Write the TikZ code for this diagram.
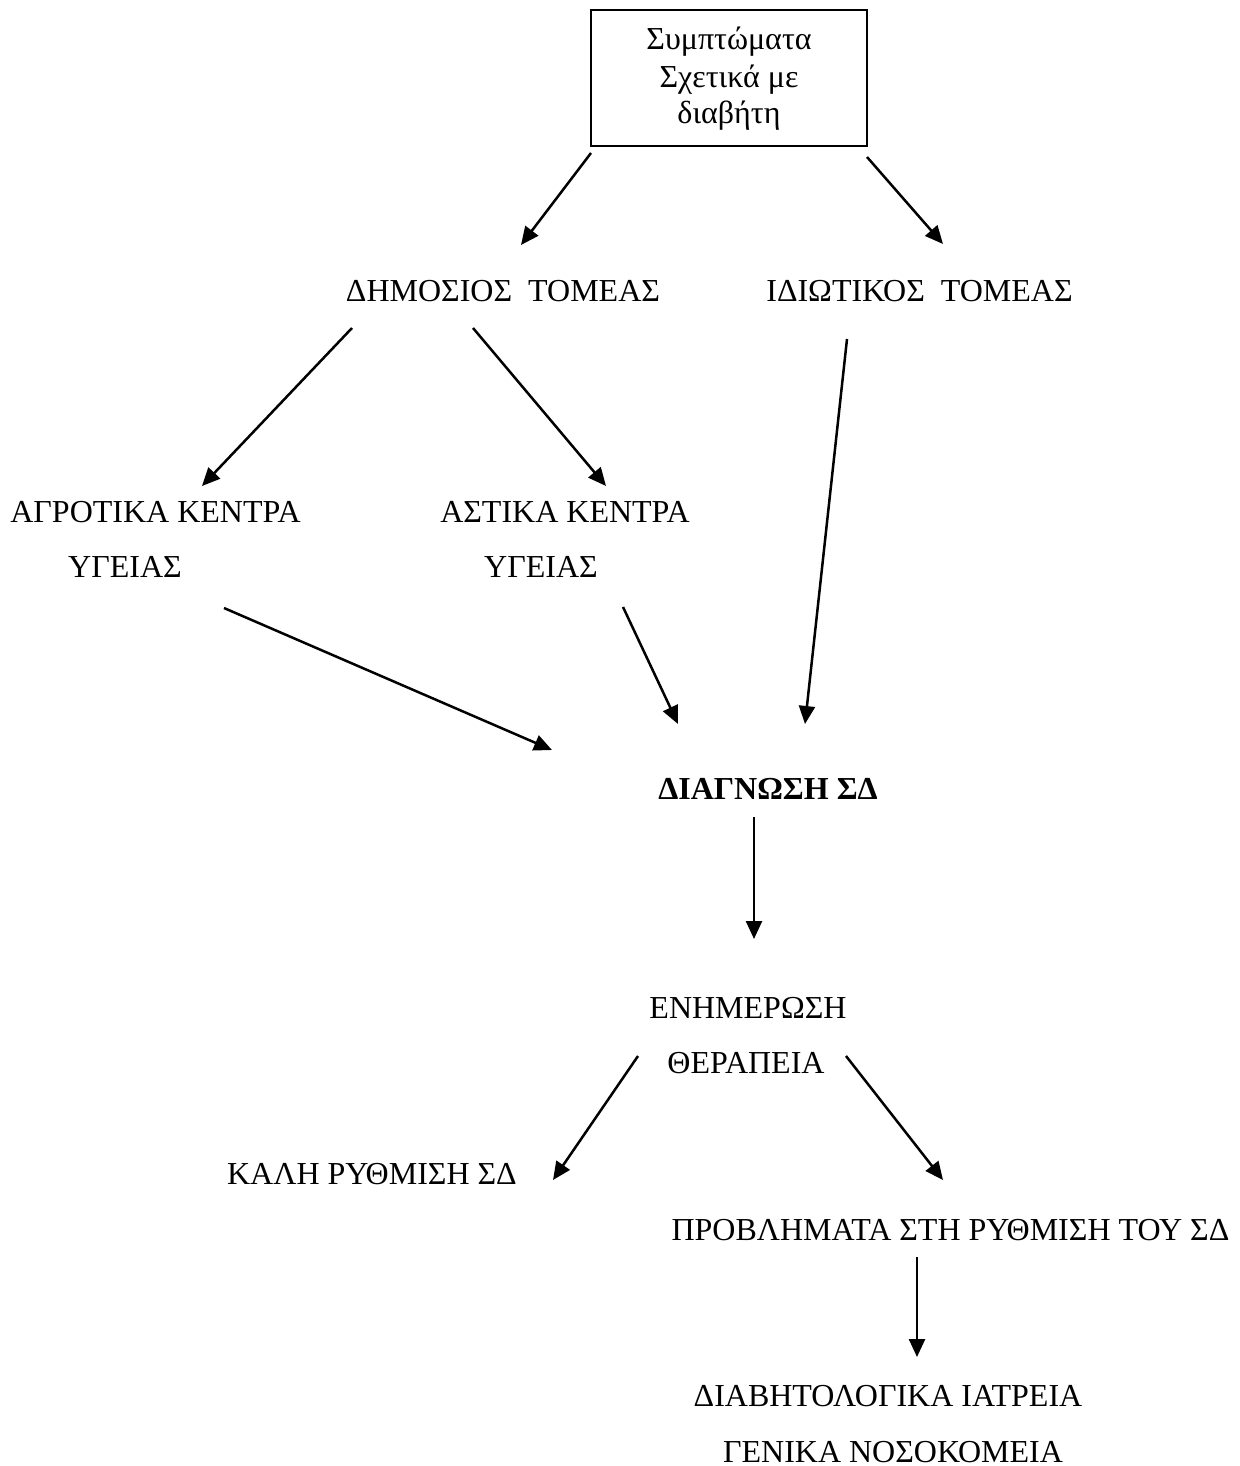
\documentclass[tikz,border=0pt]{standalone}
\usepackage{fontspec}
\setmainfont{Liberation Serif}
\usetikzlibrary{arrows.meta}
\begin{document}
\begin{tikzpicture}[x=1pt,y=-1pt,
  lbl/.style={inner sep=0pt,anchor=base,font=\fontsize{32}{38}\selectfont},
  conn/.style={line width=2.5pt,-{Triangle[length=18pt,width=16pt]}},
  boxed/.style={draw,line width=1.6pt}]
\useasboundingbox (0,0) rectangle (1239,1466);
% box
\node[boxed,minimum width=276pt,minimum height=136pt,inner sep=0pt] (box) at (729,78) {};
\node[lbl] (s1) at (729,50) {Συμπτώματα};
\node[lbl] (s2) at (729,88) {Σχετικά με};
\node[lbl] (s3) at (729,124) {διαβήτη};
% labels
\node[lbl] (dim) at (503,301) {ΔΗΜΟΣΙΟΣ\ \ ΤΟΜΕΑΣ};
\node[lbl] (idi) at (919.5,301) {ΙΔΙΩΤΙΚΟΣ\ \ ΤΟΜΕΑΣ};
\node[lbl] (agro1) at (155.5,522) {ΑΓΡΟΤΙΚΑ ΚΕΝΤΡΑ};
\node[lbl] (agro2) at (125,577) {ΥΓΕΙΑΣ};
\node[lbl] (asti1) at (565,522) {ΑΣΤΙΚΑ ΚΕΝΤΡΑ};
\node[lbl] (asti2) at (541,577) {ΥΓΕΙΑΣ};
\node[lbl,font=\fontsize{32}{38}\selectfont\bfseries] (diag) at (768,799) {ΔΙΑΓΝΩΣΗ ΣΔ};
\node[lbl] (enim) at (748,1018) {ΕΝΗΜΕΡΩΣΗ};
\node[lbl] (ther) at (746,1073) {ΘΕΡΑΠΕΙΑ};
\node[lbl] (kali) at (372,1184) {ΚΑΛΗ ΡΥΘΜΙΣΗ ΣΔ};
\node[lbl] (prov) at (950.5,1240) {ΠΡΟΒΛΗΜΑΤΑ ΣΤΗ ΡΥΘΜΙΣΗ ΤΟΥ ΣΔ};
\node[lbl] (diab) at (888,1406) {ΔΙΑΒΗΤΟΛΟΓΙΚΑ ΙΑΤΡΕΙΑ};
\node[lbl] (gen) at (893,1462) {ΓΕΝΙΚΑ ΝΟΣΟΚΟΜΕΙΑ};
% connector endpoints
\coordinate (a1s) at (591,153); \coordinate (a1e) at (521,245);
\coordinate (a2s) at (867,157); \coordinate (a2e) at (943,244);
\coordinate (a3s) at (352,328); \coordinate (a3e) at (202,486);
\coordinate (a4s) at (473,328); \coordinate (a4e) at (606,486);
\coordinate (a5s) at (847,339); \coordinate (a5e) at (805,724);
\coordinate (a6s) at (224,608); \coordinate (a6e) at (552,750);
\coordinate (a7s) at (623,607); \coordinate (a7e) at (678,724);
\coordinate (a8s) at (754,817); \coordinate (a8e) at (754,939);
\coordinate (a9s) at (638,1056); \coordinate (a9e) at (553,1180);
\coordinate (a10s) at (846,1056); \coordinate (a10e) at (943,1180);
\coordinate (a11s) at (917,1257); \coordinate (a11e) at (917,1357);
\foreach \i in {1,...,11} {\draw[conn] (a\i s) -- (a\i e);}
\end{tikzpicture}
\end{document}
